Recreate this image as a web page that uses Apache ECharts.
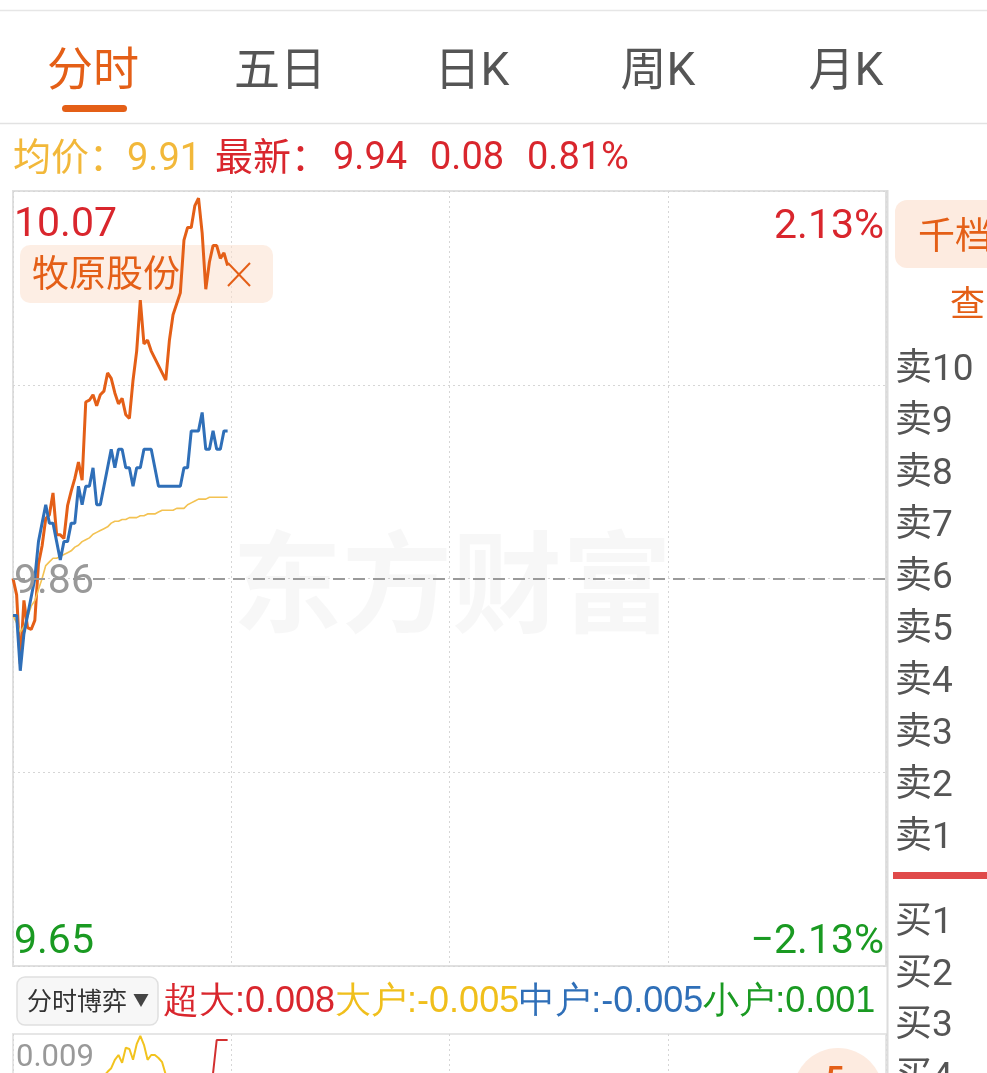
<!DOCTYPE html>
<html>
<head>
<meta charset="utf-8">
<script src="https://cdn.jsdelivr.net/npm/echarts@6/dist/echarts.min.js"></script>
<style>
html,body{margin:0;padding:0;background:#fff;}
#c{width:987px;height:1073px;}
</style>
</head>
<body>
<div id="c"></div>
<script>
// ---------- data ----------
const tabs = ['分时', '五日', '日K', '周K', '月K'];
const infoAvg = '9.91';
const infoLast = '9.94';
const infoChange = '0.08';
const infoPct = '0.81%';
const prevClose = 9.86;
const priceMax = 10.07;
const priceMin = 9.65;
const pctMax = 2.13;
const priceTopLabel = '10.07';
const priceMidLabel = '9.86';
const priceBottomLabel = '9.65';
const pctTopLabel = '2.13%';
const pctBottomLabel = '−2.13%';
const overlayName = '牧原股份';

// main stock minute price (blue)
const prices = [
  9.84, 9.84, 9.81, 9.83, 9.84, 9.85, 9.86, 9.88, 9.89, 9.90,
  9.89, 9.89, 9.88, 9.87, 9.88, 9.88, 9.89, 9.89, 9.91, 9.90,
  9.91, 9.91, 9.92, 9.90, 9.90, 9.91, 9.92, 9.93, 9.92, 9.93,
  9.93, 9.92, 9.92, 9.91, 9.92, 9.92, 9.93, 9.93, 9.93, 9.92,
  9.91, 9.91, 9.91, 9.91, 9.91, 9.91, 9.91, 9.92, 9.92, 9.94,
  9.94, 9.94, 9.95, 9.93, 9.93, 9.94, 9.93, 9.93, 9.94, 9.94
];
// average price (yellow)
const avgPrices = [
  9.840, 9.836, 9.831, 9.834, 9.839, 9.845, 9.848, 9.854, 9.860, 9.867,
  9.869, 9.871, 9.871, 9.872, 9.873, 9.874, 9.875, 9.877, 9.878, 9.880,
  9.881, 9.882, 9.884, 9.885, 9.886, 9.887, 9.888, 9.890, 9.891, 9.891,
  9.892, 9.892, 9.893, 9.893, 9.893, 9.894, 9.894, 9.895, 9.895, 9.895,
  9.896, 9.897, 9.897, 9.897, 9.897, 9.898, 9.898, 9.898, 9.900, 9.901,
  9.902, 9.903, 9.903, 9.903, 9.904, 9.904, 9.904, 9.904, 9.904, 9.904
];
// overlay stock change in percent (orange)
const overlayPct = [
  0.00, -0.09, -0.47, -0.12, -0.27, -0.28, -0.23, 0.08, 0.18, 0.33,
  0.35, 0.47, 0.24, 0.24, 0.22, 0.40, 0.48, 0.55, 0.64, 0.54,
  0.97, 0.98, 1.01, 0.95, 1.01, 1.03, 1.13, 1.10, 1.02, 0.96,
  0.99, 0.90, 0.88, 1.09, 1.25, 1.53, 1.29, 1.31, 1.25, 1.21,
  1.17, 1.13, 1.09, 1.31, 1.45, 1.51, 1.57, 1.86, 1.93, 1.93,
  2.05, 2.09, 1.90, 1.59, 1.74, 1.83, 1.83, 1.76, 1.79, 1.72
];
// 分时博弈 (lower panel)
const flowNames = ['超大', '大户', '中户', '小户'];
const flowLatest = ['0.008', '-0.005', '-0.005', '0.001'];
const flowTopLabel = '0.009';
const flowMax = 0.009;
const bigFlow = [
  0.000, 0.000, -0.001, -0.001, 0.000, 0.001, 0.001, 0.000, 0.001, 0.001,
  0.002, 0.001, 0.001, 0.000, 0.001, 0.001, 0.002, 0.002, 0.001, 0.001,
  0.002, 0.001, 0.001, 0.002, 0.0015, 0.002, 0.0027, 0.0033, 0.0047, 0.0055,
  0.0042, 0.0067, 0.0065, 0.0047, 0.0073, 0.0087, 0.0072, 0.0047, 0.0055, 0.0055,
  0.0050, 0.0043, 0.0022, 0.0005, -0.001, -0.002, -0.002, -0.003, -0.003, -0.004,
  -0.004, -0.004, -0.005, -0.005, -0.005, -0.005, -0.005, -0.005, -0.005, -0.005
];
const superFlow = [
  0.000, -0.001, -0.002, -0.002, -0.001, 0.000, 0.000, 0.001, 0.001, 0.000,
  0.000, 0.000, -0.001, -0.001, 0.000, 0.000, 0.001, 0.001, 0.001, 0.001,
  0.001, 0.001, 0.001, 0.000, 0.000, 0.001, 0.001, 0.001, 0.001, 0.001,
  0.001, 0.000, 0.000, 0.000, 0.000, 0.000, 0.001, 0.001, 0.001, 0.001,
  0.000, 0.000, 0.000, 0.000, 0.000, 0.000, 0.000, 0.000, 0.000, 0.001,
  0.001, 0.001, 0.001, 0.001, 0.001, 0.0025, 0.008, 0.008, 0.008, 0.008
];
const askLabels = ['卖10', '卖9', '卖8', '卖7', '卖6', '卖5', '卖4', '卖3', '卖2', '卖1'];
const bidLabels = ['买1', '买2', '买3', '买4'];

// ---------- style ----------
const FONT = "Roboto, 'Noto Sans CJK SC', sans-serif";
const ORANGE = '#e45f17';
const BLUE = '#2f6fb8';
const YELLOW = '#f3c252';
const RED = '#d9262d';
const GREEN = '#1a9a22';
const GOLD = '#f2b83a';

const toPairs = arr => arr.map((v, i) => [i, v]);
const chart = echarts.init(document.getElementById('c'), null, {renderer: 'canvas'});

const dotted = {show: true, lineStyle: {color: '#d6d6d6', type: [2, 3], width: 1}};

const option = {
  animation: false,
  backgroundColor: '#fff',
  grid: [
    {left: 13, top: 191, width: 873, height: 775, show: true, borderColor: '#e0e0e0', borderWidth: 2, backgroundColor: 'transparent', containLabel: false, outerBoundsMode: 'none'},
    {left: 13, top: 1034, width: 873, height: 108, show: true, borderColor: '#e6e6e6', borderWidth: 2, backgroundColor: 'transparent', containLabel: false, outerBoundsMode: 'none'}
  ],
  xAxis: [
    {type: 'value', gridIndex: 0, min: 0, max: 240, interval: 60, axisLine: {show: false}, axisTick: {show: false}, axisLabel: {show: false}, splitLine: dotted},
    {type: 'value', gridIndex: 1, min: 0, max: 240, interval: 60, axisLine: {show: false}, axisTick: {show: false}, axisLabel: {show: false}, splitLine: dotted}
  ],
  yAxis: [
    {type: 'value', gridIndex: 0, min: priceMin, max: priceMax, axisLine: {show: false}, axisTick: {show: false}, axisLabel: {show: false}, splitLine: {show: false}},
    {type: 'value', gridIndex: 0, min: -pctMax, max: pctMax, interval: pctMax / 2, position: 'right', axisLine: {show: false}, axisTick: {show: false}, axisLabel: {show: false}, splitLine: dotted},
    {type: 'value', gridIndex: 1, min: -flowMax, max: flowMax, axisLine: {show: false}, axisTick: {show: false}, axisLabel: {show: false}, splitLine: {show: false}}
  ],
  series: [
    {
      name: overlayName, type: 'line', xAxisIndex: 0, yAxisIndex: 1, data: toPairs(overlayPct),
      symbol: 'none', lineStyle: {color: ORANGE, width: 3}, z: 3
    },
    {
      name: '均价', type: 'line', xAxisIndex: 0, yAxisIndex: 0, data: toPairs(avgPrices),
      symbol: 'none', lineStyle: {color: YELLOW, width: 1.6}, z: 3
    },
    {
      name: '价格', type: 'line', xAxisIndex: 0, yAxisIndex: 0, data: toPairs(prices),
      symbol: 'none', lineStyle: {color: BLUE, width: 3}, z: 4,
      markLine: {
        silent: true, symbol: ['none', 'none'], label: {show: false},
        lineStyle: {color: '#9a9a9a', type: [12, 8], width: 2},
        data: [{yAxis: prevClose}]
      }
    },
    {
      name: '大户', type: 'line', xAxisIndex: 1, yAxisIndex: 2, data: toPairs(bigFlow),
      symbol: 'none', lineStyle: {color: '#f2c31e', width: 2}
    },
    {
      name: '超大', type: 'line', xAxisIndex: 1, yAxisIndex: 2, data: toPairs(superFlow),
      symbol: 'none', lineStyle: {color: '#d23030', width: 2}
    }
  ]
};
chart.setOption(option);

// ---------- text & decorations ----------
const yTop = chart.convertToPixel({yAxisIndex: 0}, priceMax);
const yBot = chart.convertToPixel({yAxisIndex: 0}, priceMin);
const yMid = chart.convertToPixel({yAxisIndex: 0}, prevClose);
const yFlowTop = chart.convertToPixel({yAxisIndex: 2}, flowMax);

function txt(text, x, y, size, color, align, extra) {
  return Object.assign({
    type: 'text', z: 100,
    style: {
      text: text, x: x, y: y, font: size + 'px ' + FONT, fill: color,
      textAlign: align || 'left', textVerticalAlign: 'middle',
      align: align || 'left', verticalAlign: 'middle'
    }
  }, extra || {});
}
function line(x1, y1, x2, y2, color, w, z) {
  return {type: 'line', z: z || 50, shape: {x1, y1, x2, y2}, style: {stroke: color, lineWidth: w}};
}

const g = [];
// watermark
g.push({type: 'text', z: 0, style: {text: '东方财富', x: 452, y: 582, font: "bold 110px 'Noto Sans CJK SC'", fill: 'rgba(0,0,0,0.03)', textAlign: 'center', textVerticalAlign: 'middle', align: 'center', verticalAlign: 'middle'}});
// top lines
g.push(line(0, 10.5, 987, 10.5, '#e6e6e6', 1.5));
g.push(line(0, 123.5, 987, 123.5, '#e2e2e2', 1.5));
// tabs
const tabX = [93, 280, 472, 658, 846];
tabs.forEach((t, i) => g.push(txt(t, tabX[i], 73, 46, i === 0 ? ORANGE : '#555', 'center')));
g.push({type: 'rect', z: 50, shape: {x: 62, y: 105, width: 65, height: 7, r: 3.5}, style: {fill: ORANGE}});
// info row
g.push(txt('均价：' + infoAvg, 13, 160, 38, GOLD));
g.push(txt('最新：', 215, 160, 38, RED));
g.push(txt(infoLast, 333, 159, 38, RED));
g.push(txt(infoChange, 430, 159, 38, RED));
g.push(txt(infoPct, 527, 159, 38, RED));
// axis labels
g.push(txt(priceTopLabel, 14, yTop + 35, 41, RED));
g.push(txt(priceMidLabel, 14, yMid + 4, 41, '#999'));
g.push(txt(priceBottomLabel, 14, yBot - 23, 41, GREEN));
g.push(txt(pctTopLabel, 884, yTop + 37, 41, RED, 'right'));
g.push(txt(pctBottomLabel, 884, yBot - 23, 41, GREEN, 'right'));
// overlay tag
g.push({type: 'rect', z: 1, shape: {x: 20, y: 245, width: 253, height: 58, r: 10}, style: {fill: 'rgba(252,224,206,0.55)'}});
g.push(txt(overlayName, 32, 278, 37, ORANGE, 'left', {z: 1}));
g.push(line(228, 263, 250, 286, ORANGE, 2, 5));
g.push(line(250, 263, 228, 286, ORANGE, 2, 5));
// right panel
g.push(line(887.5, 190, 887.5, 1073, '#dcdcdc', 2));
g.push({type: 'rect', z: 50, shape: {x: 895, y: 200, width: 110, height: 68, r: 12}, style: {fill: '#fdebe0'}});
g.push(txt('千档', 918, 240, 37, ORANGE));
g.push(txt('查', 950, 307, 35, ORANGE));
askLabels.forEach((t, i) => g.push(txt(t, 895, 371 + i * 52, 37, '#555')));
g.push({type: 'rect', z: 50, shape: {x: 893, y: 872, width: 94, height: 7}, style: {fill: '#e04a4a'}});
bidLabels.forEach((t, i) => g.push(txt(t, 895, 924 + i * 51.5, 37, '#555')));
// lower legend row
g.push({type: 'rect', z: 50, shape: {x: 17, y: 977, width: 141, height: 48, r: 8}, style: {fill: '#f7f7f7', stroke: '#e0e0e0', lineWidth: 1.5}});
g.push(txt('分时博弈', 27, 1004, 25, '#333'));
g.push(txt('▼', 133, 1002, 16, '#444'));
const flowColors = [RED, '#f0bf1c', BLUE, GREEN];
const rich = {};
flowColors.forEach((c, i) => { rich['f' + i] = {fill: c, color: c, font: '36px ' + FONT, fontSize: 36}; });
const legendText = flowNames.map((n, i) => '{f' + i + '|' + n + ':' + flowLatest[i] + '}').join('');
g.push({type: 'text', z: 100, style: {text: legendText, rich: rich, x: 163, y: 1002, font: '36px ' + FONT, textVerticalAlign: 'middle', verticalAlign: 'middle'}});
// lower panel label
g.push(txt(flowTopLabel, 16, yFlowTop + 24, 31, '#999'));
// floating button
g.push({type: 'circle', z: 50, shape: {cx: 838, cy: 1093, r: 45}, style: {fill: '#fdebe0'}});
g.push({type: 'text', z: 60, style: {text: '5', x: 826, y: 1064, font: 'bold 32px ' + FONT, fill: ORANGE, textVerticalAlign: 'top', verticalAlign: 'top'}});

chart.setOption({graphic: g});
</script>
</body>
</html>
